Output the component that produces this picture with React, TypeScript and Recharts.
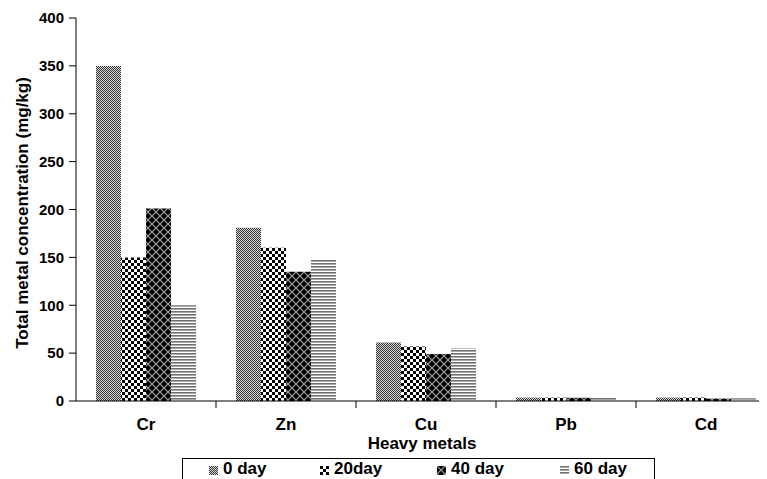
import React from "react";
import { BarChart, Bar, XAxis, YAxis, Legend } from "recharts";

const metals = ["Cr", "Zn", "Cu", "Pb", "Cd"];
const day0 = [350, 181, 61, 3.6, 3.6];
const day20 = [150, 160, 57, 3.5, 3.6];
const day40 = [201, 135, 49, 3.4, 2.5];
const day60 = [100, 148, 55, 4, 2.8];
const seriesNames = ["0 day", "20day", "40 day", "60 day"];
const yTicks = [0, 50, 100, 150, 200, 250, 300, 350, 400];

const data = metals.map((m, i) => ({
  name: m,
  d0: day0[i],
  d20: day20[i],
  d40: day40[i],
  d60: day60[i],
}));

const keys = ["d0", "d20", "d40", "d60"];
const fills = ["url(#p0)", "url(#p20)", "url(#p40)", "url(#p60)"];
const FONT = "'Liberation Sans', Arial, sans-serif";

const Patterns = () => (
  <defs>
    <pattern id="p0" patternUnits="userSpaceOnUse" width="2" height="2">
      <rect width="2" height="2" fill="#d8d8d8" />
      <rect x="0" y="0" width="1" height="1" fill="#333" />
      <rect x="1" y="1" width="1" height="1" fill="#333" />
    </pattern>
    <pattern id="p20" patternUnits="userSpaceOnUse" width="6" height="6">
      <rect width="6" height="6" fill="#fff" />
      <rect x="0" y="0" width="3" height="3" fill="#000" />
      <rect x="3" y="3" width="3" height="3" fill="#000" />
    </pattern>
    <pattern id="p40" patternUnits="userSpaceOnUse" width="8" height="8">
      <rect width="8" height="8" fill="#000" />
      <path d="M0,0 L8,8 M8,0 L0,8" stroke="#a0a0a0" strokeWidth="1.2" />
    </pattern>
    <pattern id="p60" patternUnits="userSpaceOnUse" width="3" height="3">
      <rect width="3" height="3" fill="#fff" />
      <rect x="0" y="0" width="3" height="1.6" fill="#707070" />
    </pattern>
  </defs>
);

const XTick = (props: any) => {
  const { x, y, payload } = props;
  const half = payload && payload.offset ? payload.offset : 70;
  return (
    <g>
      <line x1={x + half} y1={y - 2} x2={x + half} y2={y + 5} stroke="#000" strokeWidth={1} />
      <text x={x} y={y + 27} textAnchor="middle" fontFamily={FONT} fontWeight="bold" fontSize={17} fill="#000">
        {payload.value}
      </text>
    </g>
  );
};

const YLabel = (props: any) => {
  const vb = props.viewBox || { x: 0, y: 10, width: 68, height: 383 };
  const cx = vb.x + 19.5;
  const cy = vb.y + vb.height / 2 + 3.5;
  return (
    <text
      x={0}
      y={0}
      transform={`translate(${cx}, ${cy}) rotate(-90)`}
      textAnchor="middle"
      fontFamily={FONT}
      fontWeight="bold"
      fontSize={17}
      fill="#000"
    >
      Total metal concentration (mg/kg)
    </text>
  );
};

const XLabel = (props: any) => {
  const vb = props.viewBox || { x: 68, y: 393, width: 700, height: 57 };
  return (
    <text
      x={vb.x + vb.width / 2 - 4}
      y={vb.y + 48}
      textAnchor="middle"
      fontFamily={FONT}
      fontWeight="bold"
      fontSize={17}
      fill="#000"
    >
      Heavy metals
    </text>
  );
};

const LegendBox = () => (
  <div
    style={{
      border: "1px solid #000",
      height: 28,
      boxSizing: "border-box",
      fontFamily: FONT,
      fontWeight: "bold",
      fontSize: 17,
      position: "relative",
      background: "#fff",
    }}
  >
    {seriesNames.map((n, i) => (
      <div
        key={n}
        style={{
          position: "absolute",
          left: [26, 137, 254, 377][i],
          top: 0,
          display: "flex",
          alignItems: "center",
          lineHeight: "20px",
          whiteSpace: "nowrap",
        }}
      >
        <svg width={9} height={9} style={{ marginRight: 5, marginTop: 2 }}>
          <Patterns />
          <rect width={9} height={9} fill={fills[i]} />
        </svg>
        <span>{n}</span>
      </div>
    ))}
  </div>
);

export default function App() {
  return (
    <div style={{ width: 759, height: 471, overflow: "hidden", background: "#fff" }}>
      <BarChart
        width={780}
        height={480}
        data={data}
        margin={{ top: 10, right: 12, left: 0, bottom: 2 }}
        barSize={25}
        barGap={0}
      >
        <Patterns />
        <YAxis
          width={68}
          domain={[0, 400]}
          ticks={yTicks}
          tickLine={{ stroke: "#000" }}
          axisLine={{ stroke: "#000" }}
          tickSize={7}
          tickMargin={5}
          tick={{ fill: "#000", fontFamily: FONT, fontWeight: "bold", fontSize: 15 }}
          label={<YLabel />}
        />
        <XAxis
          dataKey="name"
          height={57}
          axisLine={{ stroke: "#000" }}
          tickLine={false}
          tickSize={0}
          tick={<XTick />}
          interval={0}
          label={<XLabel />}
        />
        <Legend
          verticalAlign="bottom"
          height={28}
          wrapperStyle={{ left: 174, width: 473 }}
          content={<LegendBox />}
        />
        {keys.map((k, i) => (
          <Bar key={k} dataKey={k} name={seriesNames[i]} fill={fills[i]} isAnimationActive={false} />
        ))}
      </BarChart>
    </div>
  );
}
